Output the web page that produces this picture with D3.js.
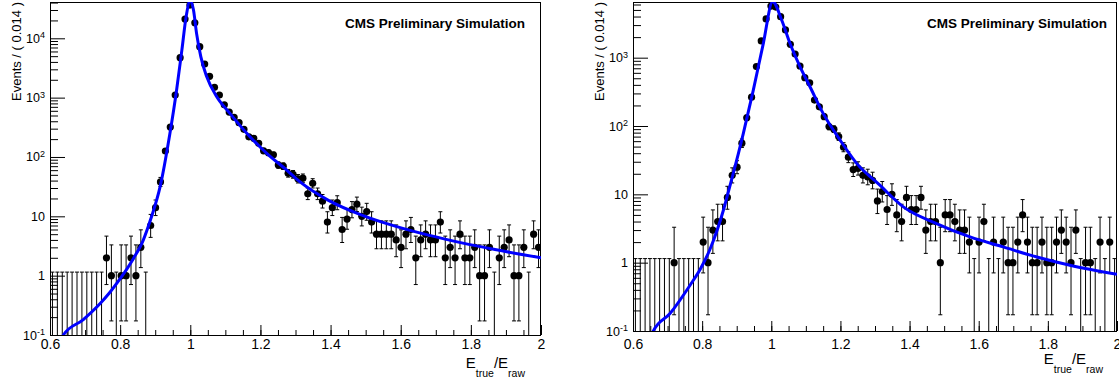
<!DOCTYPE html>
<html>
<head>
<meta charset="utf-8">
<script src="https://cdn.jsdelivr.net/npm/d3@7"></script>
<style>
  body { margin: 0; background: #fff; }
  svg { display: block; }
  text { font-family: "Liberation Sans", Arial, Helvetica, sans-serif; fill: #000; }
</style>
</head>
<body>
<svg id="chart" width="1119" height="381"></svg>
<script>
// Histogram binning: 100 bins of width 0.014 between 0.6 and 2.0
const binLow = 0.6;
const binWidth = 0.014;

// Event counts per bin, first sample
const countsA = [
  0, 0, 0, 0, 0, 0, 0, 0, 0, 0,
  0, 2, 1, 0, 1, 1, 2, 1, 3, 0,
  7, 14, 38, 126, 319, 1107, 4710, 21150, 36300, 18300,
  7230, 3690, 2290, 1494, 1107, 759, 571, 465, 378, 292,
  219, 206, 170, 127, 118, 109, 73, 70, 53, 51,
  43, 44, 24, 36, 24, 18, 8, 14, 17, 6,
  9, 13, 16, 10, 12, 8, 5, 5, 5, 5,
  4, 3, 5, 6, 2, 4, 5, 4, 4, 8,
  2, 3, 2, 5, 2, 2, 3, 1, 1, 3,
  0, 2, 3, 4, 1, 1, 3, 0, 5, 3
];

// Event counts per bin, second sample
const countsB = [
  0, 0, 0, 0, 0, 0, 0, 0, 1, 0,
  0, 0, 0, 0, 2, 1, 3, 4, 4, 9,
  19, 25, 56, 132, 264, 740, 1757, 3690, 5700, 5500,
  3980, 2550, 1570, 1133, 755, 509, 430, 240, 191, 137,
  98, 90, 70, 49, 35, 23, 24, 19, 18, 16,
  8, 11, 6, 10, 5, 4, 9, 6, 6, 9,
  3, 4, 4, 1, 5, 5, 4, 3, 3, 2,
  0, 2, 4, 0, 2, 0, 2, 1, 1, 2,
  5, 2, 1, 1, 2, 1, 1, 2, 3, 2,
  1, 3, 0, 1, 1, 0, 2, 0, 2, 0
];

// Fitted model curves (x, events per bin)
const fitXA = [0.62, 0.638, 0.695, 0.743, 0.771, 0.800, 0.819, 0.838, 0.866, 0.887, 0.914,
  0.942, 0.961, 0.976, 0.988, 1.000, 1.009, 1.018, 1.030, 1.047, 1.075, 1.113, 1.161,
  1.218, 1.275, 1.313, 1.394, 1.489, 1.584, 1.679, 1.774, 1.869, 2.0];
const fitYA = [0.05, 0.1, 0.182, 0.339, 0.525, 0.89, 1.29, 1.95, 3.98, 8.9, 31.6,
  251, 1349, 6310, 22900, 43650, 30200, 12000, 4900, 2240, 1047, 543, 251,
  115, 60, 38, 18.6, 10.5, 6.84, 4.82, 3.57, 2.75, 2.0];

const fitXB = [0.64, 0.659, 0.707, 0.765, 0.794, 0.823, 0.861, 0.876, 0.890, 0.919,
  0.948, 0.977, 1.004, 1.030, 1.054, 1.083, 1.112, 1.150, 1.199, 1.247, 1.314,
  1.382, 1.478, 1.575, 1.671, 1.768, 1.864, 2.0];
const fitYB = [0.056, 0.1, 0.18, 0.468, 0.794, 1.585, 5.75, 11.0, 20.2, 77.6,
  336, 1622, 6607, 3565, 1622, 741, 376, 153, 62.2, 28.4, 13.6,
  6.56, 3.74, 2.38, 1.70, 1.21, 0.918, 0.676];

// Axis ticks and texts
const xMajorTicks = [0.6, 0.8, 1.0, 1.2, 1.4, 1.6, 1.8, 2.0];
const xTickLabels = ["0.6", "0.8", "1", "1.2", "1.4", "1.6", "1.8", "2"];
const yTitle = "Events / ( 0.014 )";
const banner = "CMS Preliminary Simulation";

const panels = [
  { counts: countsA, fx: fitXA, fy: fitYA, left: 50, right: 541, top: 2, bottom: 335,
    yMax: 40900, decades: [-1, 0, 1, 2, 3, 4], tickLabelBase: 348.5,
    yTitleX: 20.5, bannerX: 525, bannerY: 28, xTitleX: 525, xTitleY: 368 },
  { counts: countsB, fx: fitXB, fy: fitYB, left: 633, right: 1117, top: 2, bottom: 331,
    yMax: 6530, decades: [-1, 0, 1, 2, 3], tickLabelBase: 348.5,
    yTitleX: 603.5, bannerX: 1107, bannerY: 28, xTitleX: 1103, xTitleY: 364 }
];

// Central Poisson 68.27% intervals (zero counts: one-sided upper limit)
const CL = 0.682689;
const ALPHA = (1 - CL) / 2;
function poisCdf(n, mu) {
  let t = Math.exp(-mu), s = t;
  for (let k = 1; k <= n; k++) { t *= mu / k; s += t; }
  return s;
}
function solveDecreasing(f, target, lo, hi) {
  for (let i = 0; i < 80; i++) {
    const m = (lo + hi) / 2;
    if (f(m) > target) lo = m; else hi = m;
  }
  return (lo + hi) / 2;
}
function poissonInterval(n) {
  if (n === 0) return [0, -Math.log(1 - CL)];
  if (n > 150) { const s = Math.sqrt(n); return [n - s, n + s]; }
  const top = n + 10 * Math.sqrt(n) + 10;
  const up = solveDecreasing(mu => poisCdf(n, mu), ALPHA, 0, top);
  const lo = solveDecreasing(mu => poisCdf(n - 1, mu), 1 - ALPHA, 0, top);
  return [lo, up];
}

const svg = d3.select("#chart");

panels.forEach((p, pi) => {
  const x = d3.scaleLinear().domain([0.6, 2.0]).range([p.left, p.right]);
  const y = d3.scaleLog().domain([0.1, p.yMax]).range([p.bottom, p.top]);
  const g = svg.append("g");

  const clipId = "plotclip" + pi;
  g.append("clipPath").attr("id", clipId)
    .append("rect")
    .attr("x", p.left).attr("y", p.top)
    .attr("width", p.right - p.left).attr("height", p.bottom - p.top);

  // x axis: major ticks every 0.2, minor every 0.05, pointing into the frame
  const xMinor = d3.range(0, 29).map(i => 0.6 + i * 0.05).filter(v => v <= 2.0001);
  const gxMinor = g.append("g").attr("transform", `translate(0,${p.bottom})`)
    .call(d3.axisBottom(x).tickValues(xMinor).tickSizeInner(-5).tickSizeOuter(0).tickFormat(""));
  const gx = g.append("g").attr("transform", `translate(0,${p.bottom})`)
    .call(d3.axisBottom(x).tickValues(xMajorTicks).tickSizeInner(-10).tickSizeOuter(0)
      .tickFormat((d, i) => xTickLabels[i]));
  [gxMinor, gx].forEach(a => { a.select(".domain").remove(); a.selectAll("line").attr("stroke", "#000"); });
  gx.selectAll("text")
    .attr("font-size", 14).attr("font-family", null)
    .attr("dy", null).attr("y", p.tickLabelBase - p.bottom);

  // y axis: logarithmic, decades labelled, 2..9 minor ticks
  const yMajor = p.decades.map(k => Math.pow(10, k));
  const yMinor = [];
  p.decades.forEach(k => {
    for (let m = 2; m <= 9; m++) {
      const v = m * Math.pow(10, k);
      if (v <= p.yMax) yMinor.push(v);
    }
  });
  const gyMinor = g.append("g").attr("transform", `translate(${p.left},0)`)
    .call(d3.axisLeft(y).tickValues(yMinor).tickSizeInner(-8).tickSizeOuter(0).tickFormat(""));
  const gy = g.append("g").attr("transform", `translate(${p.left},0)`)
    .call(d3.axisLeft(y).tickValues(yMajor).tickSizeInner(-15).tickSizeOuter(0).tickFormat(""));
  [gyMinor, gy].forEach(a => { a.select(".domain").remove(); a.selectAll("line").attr("stroke", "#000"); });

  const yLab = g.append("g");
  p.decades.forEach(k => {
    const t = yLab.append("text")
      .attr("x", p.left - 5).attr("y", y(Math.pow(10, k)))
      .attr("dy", "0.36em").attr("text-anchor", "end").attr("font-size", 12.5);
    if (k === 0) t.text("1");
    else if (k === 1) t.text("10");
    else {
      t.append("tspan").text("10");
      t.append("tspan").attr("font-size", 9).attr("dy", -4.5).text(String(k));
    }
  });

  // frame
  g.append("rect")
    .attr("x", p.left + 0.5).attr("y", p.top + 0.5)
    .attr("width", p.right - p.left - 1).attr("height", p.bottom - p.top)
    .attr("fill", "none").attr("stroke", "#000").attr("stroke-width", 1);

  // data with Poisson error bars
  const bins = p.counts.map((n, i) => {
    const [lo, hi] = poissonInterval(n);
    return { xc: binLow + (i + 0.5) * binWidth, n, lo, hi };
  });
  const plot = g.append("g").attr("clip-path", `url(#${clipId})`);
  const bars = plot.append("g").attr("stroke", "#000").attr("stroke-width", 1).attr("fill", "none");
  bins.forEach(b => {
    const cx = x(b.xc);
    const yTop = y(b.hi);
    const yBot = b.lo > 0 ? y(b.lo) : p.bottom + 2;
    bars.append("line").attr("x1", cx).attr("x2", cx).attr("y1", yTop).attr("y2", yBot);
    bars.append("line").attr("x1", cx - 2).attr("x2", cx + 2).attr("y1", yTop).attr("y2", yTop);
    if (b.lo > 0) bars.append("line").attr("x1", cx - 2).attr("x2", cx + 2).attr("y1", yBot).attr("y2", yBot);
  });
  plot.append("g").selectAll("circle")
    .data(bins.filter(b => b.n > 0))
    .join("circle")
    .attr("cx", b => x(b.xc)).attr("cy", b => y(b.n))
    .attr("r", 3.6).attr("fill", "#000");

  // fitted model
  const fitPts = p.fx.map((v, i) => [v, p.fy[i]]);
  plot.append("path")
    .datum(fitPts)
    .attr("d", d3.line().x(d => x(d[0])).y(d => y(d[1])).curve(d3.curveMonotoneX))
    .attr("fill", "none").attr("stroke", "#0000ff").attr("stroke-width", 3)
    .attr("stroke-linejoin", "round");

  // texts
  g.append("text")
    .attr("transform", `translate(${p.yTitleX},${p.top}) rotate(-90)`)
    .attr("text-anchor", "end").attr("font-size", 13)
    .text(yTitle);

  g.append("text")
    .attr("x", p.bannerX).attr("y", p.bannerY)
    .attr("text-anchor", "end").attr("font-size", 13.5).attr("font-weight", "bold")
    .text(banner);

  const xt = g.append("text")
    .attr("x", p.xTitleX).attr("y", p.xTitleY)
    .attr("text-anchor", "end").attr("font-size", 15);
  xt.append("tspan").text("E");
  xt.append("tspan").attr("font-size", 10.5).attr("dy", 9).text("true");
  xt.append("tspan").attr("dy", -9).text("/E");
  xt.append("tspan").attr("font-size", 10.5).attr("dy", 9).text("raw");
});
</script>
</body>
</html>
